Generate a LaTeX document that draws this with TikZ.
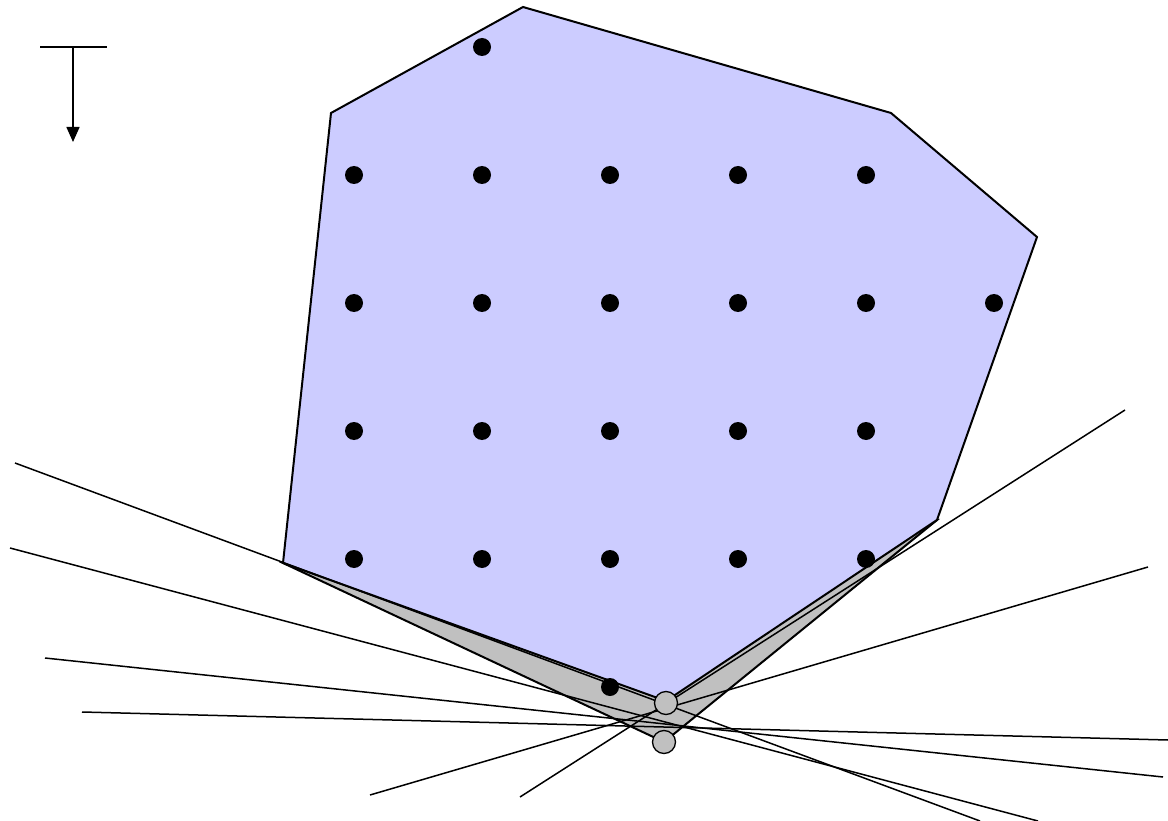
\documentclass[tikz,border=0pt]{standalone}
\usetikzlibrary{arrows.meta}
\definecolor{hullblue}{RGB}{204,204,255}
\definecolor{hullgray}{RGB}{192,192,192}
\tikzset{
  pt/.style={circle,fill=black,inner sep=0pt,minimum size=18pt},
  cand/.style={circle,draw=black,line width=1.3pt,fill=hullgray,inner sep=0pt,minimum size=23pt},
  tline/.style={line width=1.5pt,black},
  hull/.style={line width=2pt,draw=black,line join=miter},
}
\begin{document}
\begin{tikzpicture}[x=1pt,y=-1pt]
\useasboundingbox (0,0) rectangle (1168,821);
% gray hull
\filldraw[hull,fill=hullgray] (283,563) -- (664,742) -- (937,520) -- cycle;
% blue hull
\filldraw[hull,fill=hullblue] (523,7) -- (891,113) -- (1037,237) -- (937,520) -- (666,701) -- (283,563) -- (331,113) -- cycle;
% tangent lines
\draw[tline] (15,463) -- (980,821);
\draw[tline] (10,548) -- (1038,821);
\draw[tline] (45,658) -- (1163,777);
\draw[tline] (82,712) -- (1168,740);
\draw[tline] (370,795) -- (1148,567);
\draw[tline] (520,797) -- (1125,410);
% points
\node[pt] (p0) at (482,47) {};
\foreach \x [count=\i] in {354,482,610,738,866} {
  \node[pt] (a\i) at (\x,175) {};
  \node[pt] (c\i) at (\x,431) {};
  \node[pt] (d\i) at (\x,559) {};
}
\foreach \x [count=\i] in {354,482,610,738,866,994} {
  \node[pt] (b\i) at (\x,303) {};
}
\node[pt] (e1) at (610,687) {};
% candidate circles
\node[cand] (q1) at (666,703) {};
\node[cand] (q2) at (664,742) {};
% direction arrow
\coordinate (t1) at (40,47);
\coordinate (t2) at (107,47);
\coordinate (tm) at (73,47);
\coordinate (tb) at (73,142);
\draw[line width=1.5pt] (t1) -- (t2);
\draw[line width=1.5pt,-{Triangle[length=15pt,width=13pt]}] (tm) -- (tb);
\end{tikzpicture}
\end{document}
